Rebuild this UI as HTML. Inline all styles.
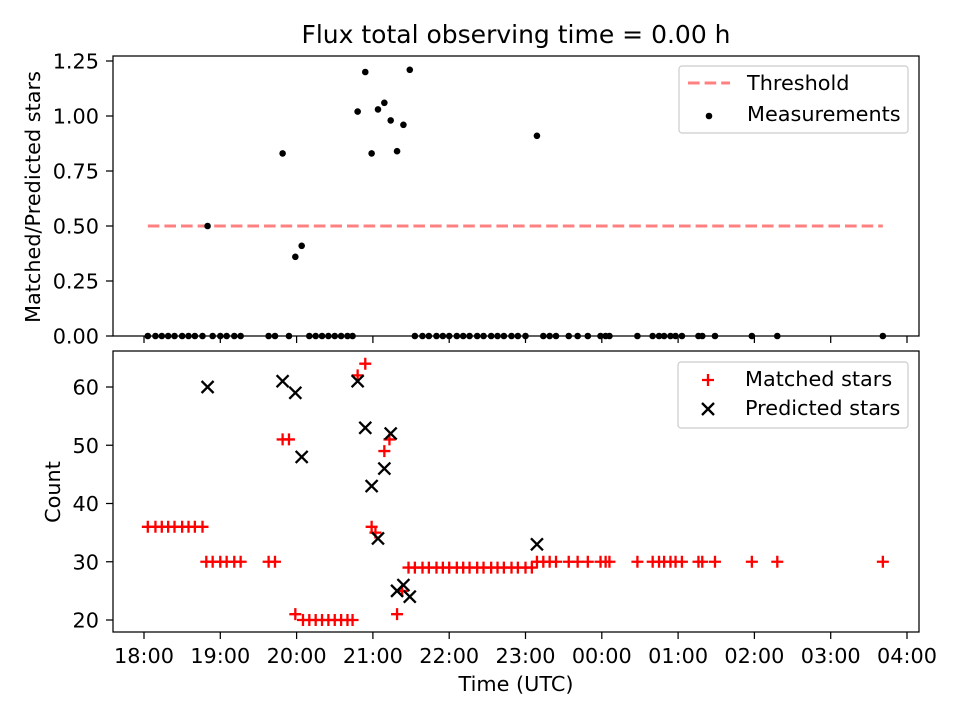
<!DOCTYPE html>
<html><head><meta charset="utf-8"><style>
body{margin:0;background:#fff}
svg text{font-family:"DejaVu Sans","Liberation Sans",sans-serif;fill:#000}
</style></head><body>
<svg id="chart" width="960" height="720" viewBox="0 0 960 720" xmlns="http://www.w3.org/2000/svg">
<rect width="960" height="720" fill="#fff"/>
<text x="516" y="43" font-size="25" text-anchor="middle">Flux total observing time = 0.00 h</text>
<g id="topAxes"></g><g id="botAxes"></g>
</svg>
<script>
// minutes since 18:00
const matchedTimes=[3,9,14,19,24,30,35,40,46,49,54,60,65,71,76,98,103,109,114,119,125,130,135,140,145,150,155,160,164,168,174,179,182,189,193,199,203,208,213,219,224,230,235,240,246,251,256,262,267,273,278,283,289,294,300,305,309,314,319,324,334,341,349,359,363,366,388,400,405,409,414,418,423,436,439,449,478,498,581];
const matchedVals=[36,36,36,36,36,36,36,36,36,30,30,30,30,30,30,30,30,51,51,21,20,20,20,20,20,20,20,20,20,62,64,36,35,49,51,21,25,29,29,29,29,29,29,29,29,29,29,29,29,29,29,29,29,29,29,29,30,30,30,30,30,30,30,30,30,30,30,30,30,30,30,30,30,30,30,30,30,30,30];
const predTimes=[50,109,119,124,168,174,179,184,189,194,199,204,209,309];
const predVals=[60,61,59,48,61,53,43,34,46,52,25,26,24,33];
const measTimes=[50,109,119,124,168,174,179,184,189,194,199,204,209,309,3,9,14,19,24,30,35,40,46,54,60,65,71,76,98,103,114,130,135,140,145,150,155,160,164,213,219,224,230,235,240,246,251,256,262,267,273,278,283,289,294,300,314,319,324,334,341,349,359,363,366,388,400,405,409,414,418,423,436,439,449,478,498,581];
const measVals=[0.5,0.83,0.36,0.41,1.02,1.2,0.83,1.03,1.06,0.98,0.84,0.96,1.21,0.91,0,0,0,0,0,0,0,0,0,0,0,0,0,0,0,0,0,0,0,0,0,0,0,0,0,0,0,0,0,0,0,0,0,0,0,0,0,0,0,0,0,0,0,0,0,0,0,0,0,0,0,0,0,0,0,0,0,0,0,0,0,0,0,0];
const xTickLabels=["18:00","19:00","20:00","21:00","22:00","23:00","00:00","01:00","02:00","03:00","04:00"];
const topTicks=[0,0.25,0.5,0.75,1.0,1.25];
const botTicks=[20,30,40,50,60];
const threshold=0.5, threshStart=3, threshEnd=581;

const NS="http://www.w3.org/2000/svg";
const X=m=>144+m*76.3/60;
const YT=v=>336-v*220;
const YB=c=>620-(c-20)*5.825;
const FS=20.8, SW=1.25, DASH='11.6,5';
function mk(p,t,a,txt){const e=document.createElementNS(NS,t);for(const k in a)e.setAttribute(k,a[k]);if(txt!==undefined)e.textContent=txt;p.appendChild(e);return e;}
const topG=document.getElementById('topAxes'),botG=document.getElementById('botAxes');
const plus=(x,y)=>`M${x-6},${y}H${x+6}M${x},${y-6}V${y+6}`;
const cross=(x,y)=>`M${x-6},${y-6}L${x+6},${y+6}M${x-6},${y+6}L${x+6},${y-6}`;

const thr=mk(topG,'line',{x1:X(threshStart),x2:X(threshEnd),y1:YT(threshold),y2:YT(threshold),stroke:'#ff8080','stroke-width':3,'stroke-dasharray':DASH});


measTimes.forEach((t,i)=>{const c=mk(topG,'circle',{cx:X(t),cy:YT(measVals[i]),r:3.3,fill:'#000'});

});
topTicks.forEach(v=>{mk(topG,'line',{x1:106,x2:113,y1:YT(v),y2:YT(v),stroke:'#000','stroke-width':SW});
const t=mk(topG,'text',{x:99,y:YT(v)+7.5,'font-size':FS,'text-anchor':'end'},v.toFixed(2));

});
xTickLabels.forEach((l,i)=>{mk(topG,'line',{x1:X(i*60),x2:X(i*60),y1:336,y2:343,stroke:'#000','stroke-width':SW});});
mk(topG,'rect',{x:113,y:56,width:806,height:280,fill:'none',stroke:'#000','stroke-width':SW});
const yl1=mk(topG,'text',{x:0,y:0,'font-size':FS,'text-anchor':'middle',transform:'translate(40,197) rotate(-90)'},'Matched/Predicted stars');


const lg1=mk(topG,'g',{});


mk(lg1,'rect',{x:679,y:66,width:229,height:67,rx:3,fill:'#fff',stroke:'#ccc','stroke-width':1.2});
mk(lg1,'line',{x1:688,x2:730,y1:83,y2:83,stroke:'#ff8080','stroke-width':3,'stroke-dasharray':DASH});
mk(lg1,'text',{x:747,y:90,'font-size':FS},'Threshold');
mk(lg1,'circle',{cx:709,cy:116,r:3.3,fill:'#000'});
mk(lg1,'text',{x:747,y:121,'font-size':FS},'Measurements');

matchedTimes.forEach((t,i)=>{const p=mk(botG,'path',{d:plus(X(t),YB(matchedVals[i])),stroke:'#f00','stroke-width':2.3});

});
predTimes.forEach((t,i)=>{const p=mk(botG,'path',{d:cross(X(t),YB(predVals[i])),stroke:'#000','stroke-width':2.3});

});
botTicks.forEach(v=>{mk(botG,'line',{x1:106,x2:113,y1:YB(v),y2:YB(v),stroke:'#000','stroke-width':SW});
const t=mk(botG,'text',{x:99,y:YB(v)+7.5,'font-size':FS,'text-anchor':'end'},String(v));

});
xTickLabels.forEach((l,i)=>{mk(botG,'line',{x1:X(i*60),x2:X(i*60),y1:632,y2:639,stroke:'#000','stroke-width':SW});
const t=mk(botG,'text',{x:X(i*60),y:663,'font-size':FS,'text-anchor':'middle'},l);

});
mk(botG,'rect',{x:113,y:351,width:806,height:281,fill:'none',stroke:'#000','stroke-width':SW});
const yl2=mk(botG,'text',{x:0,y:0,'font-size':FS,'text-anchor':'middle',transform:'translate(60,492) rotate(-90)'},'Count');


const xl=mk(botG,'text',{x:516,y:691,'font-size':FS,'text-anchor':'middle'},'Time (UTC)');


const lg2=mk(botG,'g',{});


mk(lg2,'rect',{x:678,y:362,width:230,height:66,rx:3,fill:'#fff',stroke:'#ccc','stroke-width':1.2});
mk(lg2,'path',{d:plus(708,380),stroke:'#f00','stroke-width':2.3});
mk(lg2,'text',{x:745,y:386,'font-size':FS},'Matched stars');
mk(lg2,'path',{d:cross(708,409),stroke:'#000','stroke-width':2.3});
mk(lg2,'text',{x:745,y:415,'font-size':FS},'Predicted stars');
</script>
</body></html>
